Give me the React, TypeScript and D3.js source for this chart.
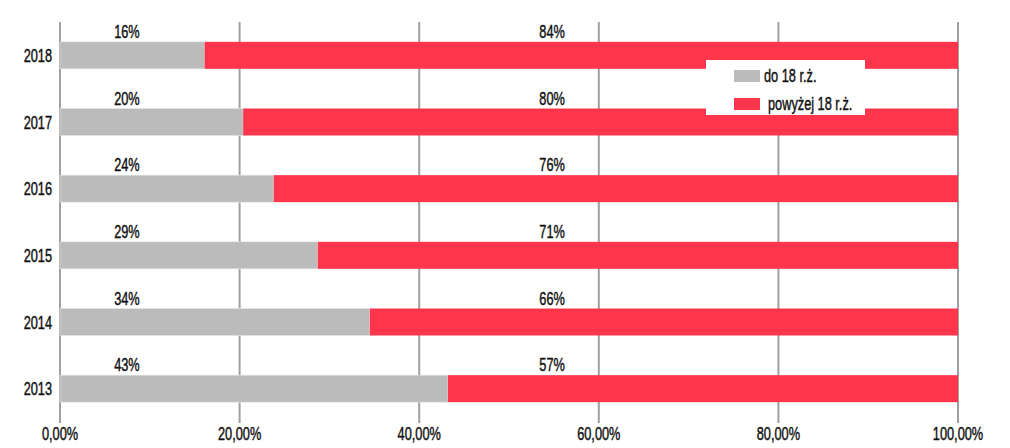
import React from "react";
import * as d3 from "d3";

const years = ["2018", "2017", "2016", "2015", "2014", "2013"];
const under18 = [16.1, 20.4, 23.8, 28.7, 34.5, 43.2];
const over18 = [83.9, 79.6, 76.2, 71.3, 65.5, 56.8];
const under18Labels = ["16%", "20%", "24%", "29%", "34%", "43%"];
const over18Labels = ["84%", "80%", "76%", "71%", "66%", "57%"];
const xTicks = [0, 20, 40, 60, 80, 100];
const xTickLabels = ["0,00%", "20,00%", "40,00%", "60,00%", "80,00%", "100,00%"];
const seriesNames = ["do 18 r.ż.", "powyżej 18 r.ż."];

const W = 1010;
const H = 448;
const FONT = "'Liberation Sans', Arial, sans-serif";
const GREY = "#bbbbbb";
const RED = "#ff354b";
const SX = 0.69;

function T(props: {
  x: number;
  y: number;
  anchor?: "start" | "middle" | "end";
  size?: number;
  children: React.ReactNode;
}) {
  const { x, y, anchor = "start", size = 18.5, children } = props;
  return (
    <text
      transform={`translate(${x},${y}) scale(${SX},1)`}
      textAnchor={anchor}
      fontSize={size}
      fill="#111"
      stroke="#111"
      strokeWidth={0.45}
    >
      {children}
    </text>
  );
}

export default function App() {
  const x = d3.scaleLinear().domain([0, 100]).range([60, 958]);
  const y = d3
    .scaleBand<string>()
    .domain(years)
    .range([22, 422])
    .paddingInner(0.595)
    .paddingOuter(0.2975);
  const bw = y.bandwidth();
  const greyLabelX = x(7.45);
  const redLabelX = x(54.8);

  return (
    <svg
      width={W}
      height={H}
      style={{ position: "absolute", left: 0, top: 0, background: "#fff" }}
      fontFamily={FONT}
    >
      {xTicks.map((t, i) => (
        <g key={t}>
          <line x1={x(t)} x2={x(t)} y1={22} y2={423} stroke="#a0a0a0" strokeWidth={2} />
          <T x={x(t)} y={440} anchor="middle">
            {xTickLabels[i]}
          </T>
        </g>
      ))}
      {years.map((yr, i) => {
        const y0 = y(yr)!;
        return (
          <g key={yr}>
            <rect
              x={x(0)}
              y={y0}
              width={x(under18[i]) - x(0)}
              height={bw}
              fill={GREY}
              stroke="#e6e6e6"
              strokeWidth={0.6}
            />
            <rect
              x={x(under18[i])}
              y={y0}
              width={x(under18[i] + over18[i]) - x(under18[i])}
              height={bw}
              fill={RED}
            />
            <T x={52} y={y0 + bw / 2 + 6.5} anchor="end">
              {yr}
            </T>
            <T x={greyLabelX} y={y0 - 4} anchor="middle">
              {under18Labels[i]}
            </T>
            <T x={redLabelX} y={y0 - 4} anchor="middle">
              {over18Labels[i]}
            </T>
          </g>
        );
      })}
      <g>
        <rect x={706} y={60} width={159} height={55} fill="#fff" />
        <rect x={734} y={70} width={26} height={12} fill={GREY} />
        <T x={764} y={82} size={18.5}>
          {seriesNames[0]}
        </T>
        <rect x={734} y={98} width={26} height={12} fill={RED} />
        <T x={768} y={110} size={18.5}>
          {seriesNames[1]}
        </T>
      </g>
    </svg>
  );
}
